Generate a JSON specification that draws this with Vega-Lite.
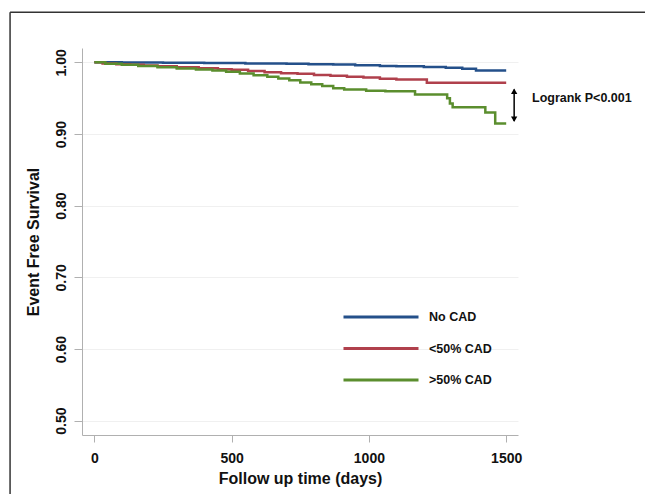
{
  "$schema": "https://vega.github.io/schema/vega-lite/v6.json",
  "width": 436,
  "height": 387,
  "autosize": {"type": "none"},
  "padding": {"left": 82, "top": 48, "right": 127, "bottom": 59},
  "background": "white",
  "config": {"view": {"stroke": null}, "font": "Liberation Sans"},
  "datasets": {
    "km": [
      {"group": "No CAD", "days": 0, "surv": 1.0},
      {"group": "No CAD", "days": 100, "surv": 0.9997},
      {"group": "No CAD", "days": 250, "surv": 0.9994},
      {"group": "No CAD", "days": 400, "surv": 0.999},
      {"group": "No CAD", "days": 550, "surv": 0.9985},
      {"group": "No CAD", "days": 700, "surv": 0.998},
      {"group": "No CAD", "days": 780, "surv": 0.9975},
      {"group": "No CAD", "days": 870, "surv": 0.997},
      {"group": "No CAD", "days": 950, "surv": 0.996},
      {"group": "No CAD", "days": 1040, "surv": 0.995},
      {"group": "No CAD", "days": 1100, "surv": 0.9945},
      {"group": "No CAD", "days": 1200, "surv": 0.9935},
      {"group": "No CAD", "days": 1280, "surv": 0.9925},
      {"group": "No CAD", "days": 1340, "surv": 0.991},
      {"group": "No CAD", "days": 1390, "surv": 0.9885},
      {"group": "No CAD", "days": 1500, "surv": 0.9885},
      {"group": "<50% CAD", "days": 0, "surv": 1.0},
      {"group": "<50% CAD", "days": 30, "surv": 0.9985},
      {"group": "<50% CAD", "days": 80, "surv": 0.9975},
      {"group": "<50% CAD", "days": 130, "surv": 0.9965},
      {"group": "<50% CAD", "days": 180, "surv": 0.9955},
      {"group": "<50% CAD", "days": 230, "surv": 0.9945},
      {"group": "<50% CAD", "days": 300, "surv": 0.993},
      {"group": "<50% CAD", "days": 380, "surv": 0.9918},
      {"group": "<50% CAD", "days": 450, "surv": 0.9905},
      {"group": "<50% CAD", "days": 500, "surv": 0.9895},
      {"group": "<50% CAD", "days": 560, "surv": 0.988},
      {"group": "<50% CAD", "days": 620, "surv": 0.9862},
      {"group": "<50% CAD", "days": 680, "surv": 0.9848},
      {"group": "<50% CAD", "days": 740, "surv": 0.984},
      {"group": "<50% CAD", "days": 800, "surv": 0.9825},
      {"group": "<50% CAD", "days": 860, "surv": 0.9812},
      {"group": "<50% CAD", "days": 920, "surv": 0.98},
      {"group": "<50% CAD", "days": 980, "surv": 0.9788},
      {"group": "<50% CAD", "days": 1040, "surv": 0.977},
      {"group": "<50% CAD", "days": 1100, "surv": 0.976},
      {"group": "<50% CAD", "days": 1211, "surv": 0.9716},
      {"group": "<50% CAD", "days": 1500, "surv": 0.9716},
      {"group": ">50% CAD", "days": 0, "surv": 1.0},
      {"group": ">50% CAD", "days": 40, "surv": 0.998},
      {"group": ">50% CAD", "days": 100, "surv": 0.9965},
      {"group": ">50% CAD", "days": 160, "surv": 0.995},
      {"group": ">50% CAD", "days": 230, "surv": 0.993},
      {"group": ">50% CAD", "days": 300, "surv": 0.9915},
      {"group": ">50% CAD", "days": 370, "surv": 0.99},
      {"group": ">50% CAD", "days": 430, "surv": 0.9885},
      {"group": ">50% CAD", "days": 480, "surv": 0.987},
      {"group": ">50% CAD", "days": 530, "surv": 0.9845},
      {"group": ">50% CAD", "days": 580, "surv": 0.982},
      {"group": ">50% CAD", "days": 630, "surv": 0.98},
      {"group": ">50% CAD", "days": 670, "surv": 0.9775},
      {"group": ">50% CAD", "days": 710, "surv": 0.975},
      {"group": ">50% CAD", "days": 750, "surv": 0.972},
      {"group": ">50% CAD", "days": 790, "surv": 0.9695},
      {"group": ">50% CAD", "days": 830, "surv": 0.967},
      {"group": ">50% CAD", "days": 870, "surv": 0.964},
      {"group": ">50% CAD", "days": 910, "surv": 0.962},
      {"group": ">50% CAD", "days": 990, "surv": 0.9605},
      {"group": ">50% CAD", "days": 1060, "surv": 0.9595},
      {"group": ">50% CAD", "days": 1168, "surv": 0.955},
      {"group": ">50% CAD", "days": 1285, "surv": 0.95},
      {"group": ">50% CAD", "days": 1295, "surv": 0.9425},
      {"group": ">50% CAD", "days": 1305, "surv": 0.9375},
      {"group": ">50% CAD", "days": 1424, "surv": 0.93},
      {"group": ">50% CAD", "days": 1460, "surv": 0.9145},
      {"group": ">50% CAD", "days": 1500, "surv": 0.9145}
    ],
    "note": [{"label": "Logrank P<0.001"}],
    "one": [{"k": 1}]
  },
  "layer": [
    {
      "data": {"name": "km"},
      "mark": {"type": "line", "interpolate": "step-after", "strokeWidth": 2.5},
      "encoding": {
        "x": {
          "field": "days", "type": "quantitative",
          "scale": {"domain": [-45, 1543], "nice": false, "zero": false},
          "axis": {
            "values": [0, 500, 1000, 1500], "format": "d", "grid": false, "title": "Follow up time (days)",
            "domainColor": "#b0b0b0", "tickColor": "#b0b0b0", "tickSize": 7,
            "labelFontSize": 14, "labelFontWeight": "bold", "labelColor": "#111", "labelPadding": 9,
            "titleFontSize": 16, "titleFontWeight": "bold", "titleColor": "#111", "titlePadding": 5
          }
        },
        "y": {
          "field": "surv", "type": "quantitative",
          "scale": {"domain": [0.48, 1.02], "nice": false, "zero": false},
          "axis": {
            "values": [0.5, 0.6, 0.7, 0.8, 0.9, 1.0], "format": ".2f", "grid": true, "gridColor": "#f0f0f0",
            "title": "Event Free Survival",
            "domainColor": "#b0b0b0", "tickColor": "#b0b0b0", "tickSize": 8,
            "labelAngle": -90, "labelFontSize": 14, "labelFontWeight": "bold", "labelColor": "#111", "labelPadding": 6,
            "titleFontSize": 16, "titleFontWeight": "bold", "titleColor": "#111", "titlePadding": 13
          }
        },
        "color": {
          "field": "group", "type": "nominal",
          "scale": {"domain": ["No CAD", "<50% CAD", ">50% CAD"], "range": ["#24508A", "#B0404C", "#5B8E2E"]},
          "legend": {
            "orient": "none", "legendX": 282, "legendY": 252, "title": null,
            "symbolType": "M-2.42,0H2.42", "symbolSize": 961, "symbolStrokeWidth": 3,
            "labelOffset": 31, "labelFontSize": 12.5, "labelFontWeight": "bold", "labelColor": "#111",
            "rowPadding": 7.5, "padding": 0
          }
        }
      }
    },
    {
      "data": {"name": "one"},
      "mark": {"type": "rule", "color": "#333", "strokeWidth": 1.5},
      "encoding": {"x": {"datum": -307}, "y": {"datum": 1.0698}, "y2": {"datum": 0.3}}
    },
    {
      "data": {"name": "one"},
      "mark": {"type": "rule", "color": "#333", "strokeWidth": 1.5},
      "encoding": {"x": {"datum": -307}, "x2": {"datum": 2100}, "y": {"datum": 1.0698}}
    },
    {
      "data": {"name": "one"},
      "mark": {"type": "rule", "color": "black", "strokeWidth": 1.5},
      "encoding": {"x": {"datum": 1529}, "y": {"datum": 0.962}, "y2": {"datum": 0.918}}
    },
    {
      "data": {"name": "one"},
      "mark": {"type": "point", "shape": "triangle-up", "filled": true, "color": "black", "size": 40, "opacity": 1},
      "encoding": {"x": {"datum": 1529}, "y": {"datum": 0.9595}}
    },
    {
      "data": {"name": "one"},
      "mark": {"type": "point", "shape": "triangle-down", "filled": true, "color": "black", "size": 40, "opacity": 1},
      "encoding": {"x": {"datum": 1529}, "y": {"datum": 0.9205}}
    },
    {
      "data": {"name": "note"},
      "mark": {"type": "text", "align": "left", "baseline": "middle", "fontSize": 12.5, "fontWeight": "bold", "color": "#111"},
      "encoding": {"x": {"datum": 1594}, "y": {"datum": 0.9498}, "text": {"field": "label"}}
    }
  ]
}
